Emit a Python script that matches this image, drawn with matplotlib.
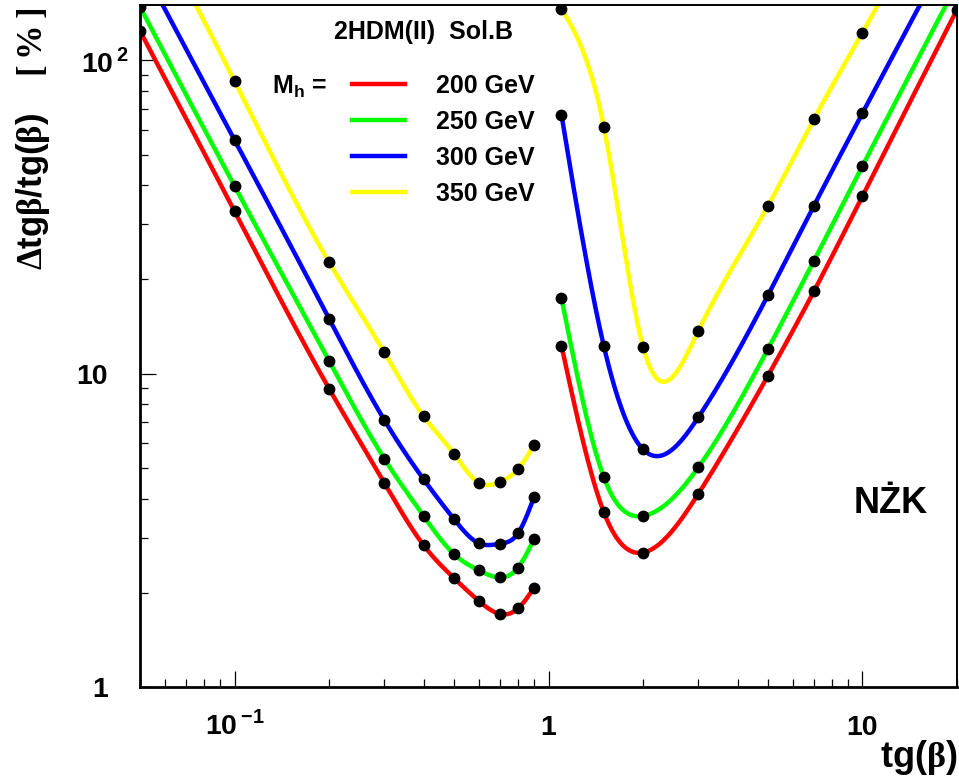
import numpy as np
import matplotlib
matplotlib.use('Agg')
import matplotlib.pyplot as plt
import matplotlib.transforms as mtransforms
from matplotlib.lines import Line2D
from matplotlib.ticker import LogLocator, NullFormatter

plt.rcParams['font.family'] = 'Liberation Sans'
plt.rcParams['font.weight'] = 'bold'
plt.rcParams['mathtext.fontset'] = 'custom'
plt.rcParams['mathtext.rm'] = 'Liberation Serif'
plt.rcParams['mathtext.bf'] = 'Liberation Sans:bold'

# tg(beta) points, below and above 1
tgb_low = [0.05, 0.1, 0.2, 0.3, 0.4, 0.5, 0.6, 0.7, 0.8, 0.9]
tgb_high = [1.1, 1.5, 2, 3, 5, 7, 10, 20]

masses = ['200 GeV', '250 GeV', '300 GeV', '350 GeV']
colors = ['#ff0000', '#00ff00', '#0000ff', '#ffff00']

# relative error on tg(beta) in %
err_low_200 = [124, 33.0, 8.97, 4.49, 2.84, 2.23, 1.885, 1.713, 1.786, 2.078]
err_low_250 = [148, 39.7, 10.99, 5.36, 3.52, 2.66, 2.36, 2.24, 2.41, 2.98]
err_low_300 = [205, 55.7, 15.0, 7.12, 4.61, 3.44, 2.88, 2.87, 3.10, 4.05]
err_low_350 = [330, 85.9, 22.7, 11.7, 7.32, 5.56, 4.49, 4.52, 4.97, 5.93]

err_high_200 = [12.27, 3.62, 2.69, 4.14, 9.86, 18.3, 36.9, 145]
err_high_250 = [17.4, 4.68, 3.52, 5.03, 12.0, 22.9, 46.0, 175]
err_high_300 = [66.9, 12.27, 5.74, 7.26, 17.8, 34.3, 67.8, 250]
err_high_350 = [146, 61.4, 12.2, 13.7, 34.3, 64.8, 122.5, 440]

low = [err_low_200, err_low_250, err_low_300, err_low_350]
high = [err_high_200, err_high_250, err_high_300, err_high_350]


def smooth(x, y, n=400):
    # natural cubic spline in log-log space
    lx, ly = np.log10(x), np.log10(y)
    h = np.diff(lx)
    m = len(lx)
    A = np.zeros((m, m))
    b = np.zeros(m)
    A[0, 0] = A[-1, -1] = 1
    for i in range(1, m - 1):
        A[i, i - 1] = h[i - 1]
        A[i, i] = 2 * (h[i - 1] + h[i])
        A[i, i + 1] = h[i]
        b[i] = 6 * ((ly[i + 1] - ly[i]) / h[i] - (ly[i] - ly[i - 1]) / h[i - 1])
    M = np.linalg.solve(A, b)
    xs = np.linspace(lx[0], lx[-1], n)
    k = np.clip(np.searchsorted(lx, xs) - 1, 0, m - 2)
    hk = h[k]
    a = (lx[k + 1] - xs) / hk
    c = (xs - lx[k]) / hk
    ys = a * ly[k] + c * ly[k + 1] + ((a**3 - a) * M[k] + (c**3 - c) * M[k + 1]) * hk**2 / 6
    return 10**xs, 10**ys


fig = plt.figure(figsize=(9.59, 7.78), dpi=100)
ax = fig.add_axes([140 / 959, 90.7 / 778, 817 / 959, 682.3 / 778])

for c, yl, yh in zip(colors, low, high):
    for xx, yy in ((tgb_low, yl), (tgb_high, yh)):
        sx, sy = smooth(xx, yy)
        ax.plot(sx, sy, '-', color=c, lw=3.2, solid_capstyle='butt')
        ax.plot(xx, yy, 'o', color='black', ms=7.5)

ax.set_xscale('log')
ax.set_yscale('log')
ax.set_xlim(0.05, 20)
ax.set_ylim(1, 150)

ax.set_xticks([0.1, 1, 10])
ax.set_xticklabels([r'$\mathbf{10}^{\,\mathbf{-1}}$', '1', '10'])
ax.set_yticks([1, 10, 100])
ax.set_yticklabels(['1', '10', r'$\mathbf{10}^{\,\mathbf{2}}$'])
for axis in (ax.xaxis, ax.yaxis):
    axis.set_minor_locator(LogLocator(base=10, subs=np.arange(2, 10) * 1.0, numticks=20))
    axis.set_minor_formatter(NullFormatter())

ax.tick_params(which='both', direction='in', top=False, right=False, width=0.9, labelsize=20.5)
ax.tick_params(which='major', length=11.5)
ax.tick_params(which='minor', length=5.8)
ax.tick_params(axis='x', pad=34)
ax.tick_params(axis='y', pad=23)
for lab in ax.get_xticklabels():
    lab.set_verticalalignment('baseline')
ylabs = ax.get_yticklabels()
ylabs[2].set_transform(ylabs[2].get_transform() +
                       mtransforms.ScaledTranslation(0.21, 0, fig.dpi_scale_trans))

for side in ('left', 'bottom'):
    ax.spines[side].set_linewidth(2.0)
for side in ('top', 'right'):
    ax.spines[side].set_linewidth(1.4)

ax.set_xlabel(r'$\mathbf{tg(}\mathrm{\beta}\mathbf{)}$', fontsize=26, loc='right')
ax.xaxis.set_label_coords(1.0, -0.075)
ax.set_ylabel(r'$\mathrm{\Delta}\mathbf{tg}\mathrm{\beta}\mathbf{/tg(}\mathrm{\beta}\mathbf{)}\quad\mathrm{[\,\%\,]}$',
              fontsize=25, loc='top')
ax.yaxis.set_label_coords(-0.108, 0.996)

handles = [Line2D([], [], color=c, lw=3.2) for c in colors]
ax.legend(handles, masses, loc='upper left', bbox_to_anchor=(0.2595, 0.899),
          frameon=False, prop={'weight': 'bold', 'size': 18}, handlelength=2.1,
          handletextpad=1.25, labelspacing=0.48, borderpad=0, borderaxespad=0)

ax.text(0.3464, 0.9604, '2HDM(II)  Sol.B', transform=ax.transAxes,
        ha='center', va='center', fontsize=18, fontweight='bold')
ax.text(0.1616, 0.880, r'$\mathbf{M_h}$ =', transform=ax.transAxes,
        ha='left', va='center', fontsize=18, fontweight='bold')
ax.text(0.919, 0.270, 'NŻK', transform=ax.transAxes,
        ha='center', va='center', fontsize=26, fontweight='bold')

fig.savefig('out.png', dpi=100)
